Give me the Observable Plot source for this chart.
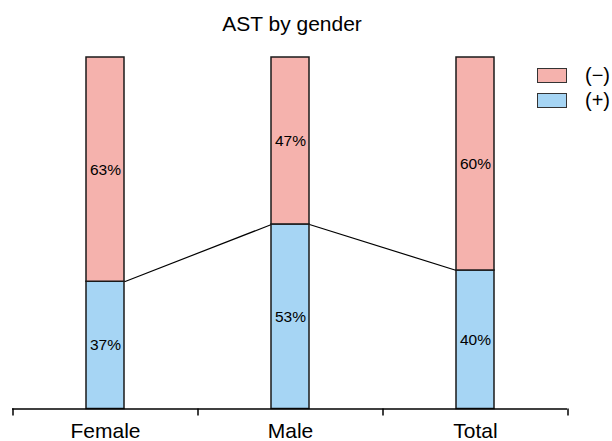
<!DOCTYPE html>
<html>
<head>
<meta charset="utf-8">
<script src="https://cdn.jsdelivr.net/npm/d3@7"></script>
<script src="https://cdn.jsdelivr.net/npm/@observablehq/plot@0.6"></script>
<style>
  html, body { margin: 0; padding: 0; background: #fff; }
  #wrap { position: relative; width: 612px; height: 441px; font-family: "Liberation Sans", Arial, sans-serif; }
  #legend { position: absolute; left: 537px; top: 63px; }
  .item { display: flex; align-items: center; height: 25px; font-size: 20px; color: #000; }
  .sw { width: 28px; height: 13px; border: 1px solid #333; margin-right: 18px; }
</style>
</head>
<body>
<div id="wrap"></div>
<script>
const title = "AST by gender";
const genders = ["Female", "Male", "Total"];
const series = ["(+)", "(−)"];
const colors = ["#A6D5F4", "#F5B2AD"];
const positive = [0.362, 0.525, 0.394];
const posLabels = ["37%", "53%", "40%"];
const negLabels = ["63%", "47%", "60%"];

const W = 612, H = 441, ML = 12, MR = 45, MT = 57, MB = 32.5;
const STEP = (W - ML - MR) / genders.length;

const rows = [];
genders.forEach((g, i) => {
  rows.push({gender: g, sign: series[0], value: positive[i], label: posLabels[i]});
  rows.push({gender: g, sign: series[1], value: 1 - positive[i], label: negLabels[i]});
});
const segs = genders.slice(1).map((g, i) => ({a: genders[i], b: g, ya: positive[i], yb: positive[i + 1]}));

const chart = Plot.plot({
  width: W, height: H,
  marginLeft: ML, marginRight: MR, marginTop: MT, marginBottom: MB,
  style: {fontFamily: "'Liberation Sans', Arial, sans-serif", background: "#fff", overflow: "visible"},
  x: {type: "band", domain: genders, paddingInner: 0.795, paddingOuter: 0.3975, label: null},
  y: {domain: [0, 1], axis: null},
  color: {domain: series, range: colors},
  marks: [
    Plot.link(segs, {
      x1: "a", x2: "b", y1: "ya", y2: "yb", stroke: "#000", strokeWidth: 1.2,
      render(index, scales, values, dimensions, context, next) {
        const bw = scales.x.bandwidth();
        const x1 = Float64Array.from(values.x1, v => v + bw / 2);
        const x2 = Float64Array.from(values.x2, v => v - bw / 2);
        return next(index, scales, {...values, x1, x2}, dimensions, context);
      }
    }),
    Plot.barY(rows, {x: "gender", y: "value", fill: "sign", z: "sign", stroke: "#1a1a1a", strokeWidth: 1.5}),
    Plot.text(rows, Plot.stackY({x: "gender", y: "value", z: "sign", text: "label", fontSize: 15.5, fill: "#000"})),
    Plot.ruleY([0], {stroke: "#000", strokeWidth: 1.5}),
    Plot.ruleX(genders, {x: d => d, dx: -STEP / 2, y1: 0, y2: 0, insetBottom: -7, stroke: "#000", strokeWidth: 1.5}),
    Plot.ruleX(genders.slice(-1), {x: d => d, dx: STEP / 2, y1: 0, y2: 0, insetBottom: -7, stroke: "#000", strokeWidth: 1.5}),
    Plot.axisX({tickSize: 0, tickPadding: 14, fontSize: 21, fill: "#000", label: null}),
    Plot.text([title], {frameAnchor: "top", dy: -41, dx: 2, fontSize: 21, fill: "#000"})
  ]
});

const wrap = document.getElementById("wrap");
wrap.appendChild(chart);
const legend = document.createElement("div");
legend.id = "legend";
[1, 0].forEach(k => {
  const item = document.createElement("div");
  item.className = "item";
  const sw = document.createElement("div");
  sw.className = "sw";
  sw.style.background = colors[k];
  const t = document.createElement("span");
  t.textContent = series[k];
  item.appendChild(sw);
  item.appendChild(t);
  legend.appendChild(item);
});
wrap.appendChild(legend);
</script>
</body>
</html>
